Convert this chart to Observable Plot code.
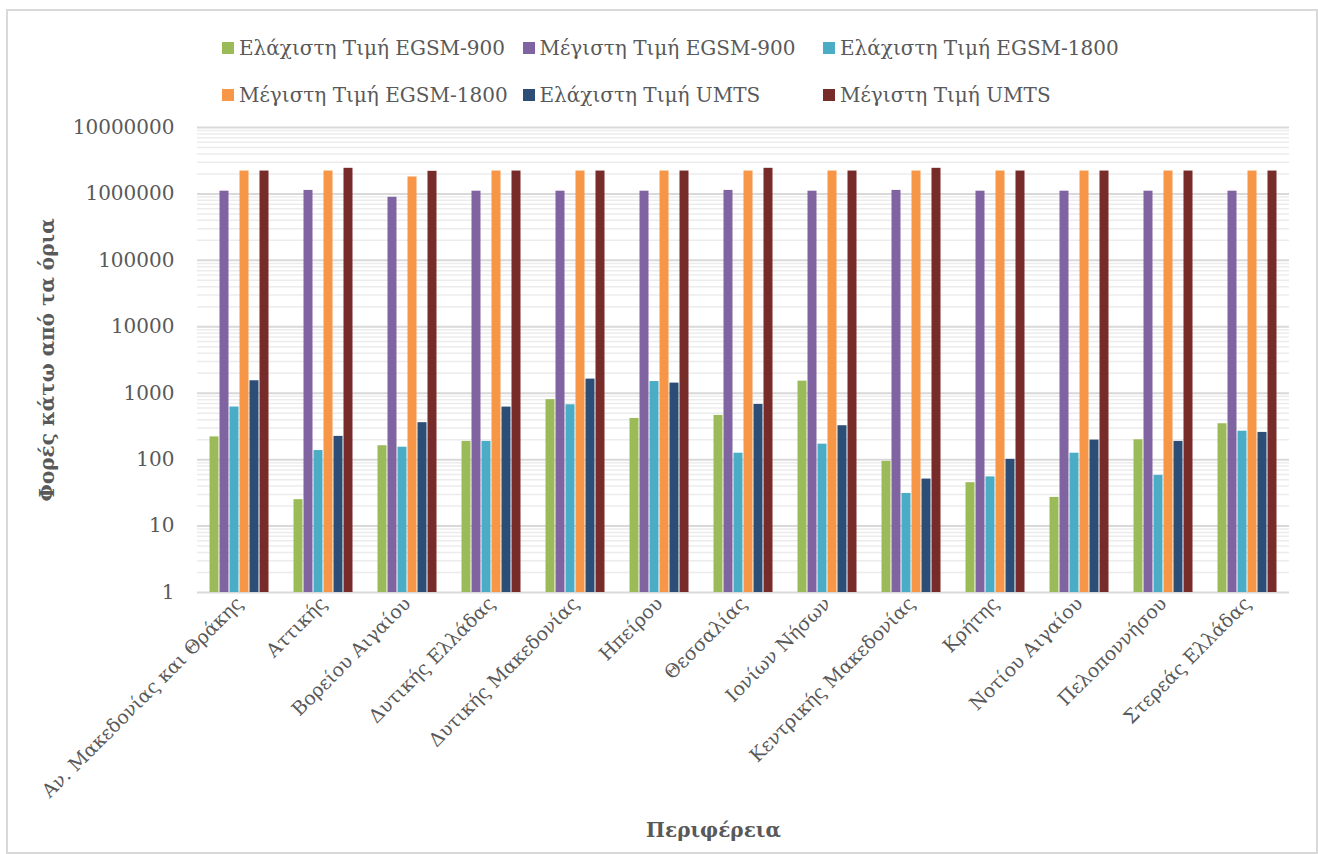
<!DOCTYPE html>
<html>
<head>
<meta charset="utf-8">
<script src="https://cdn.jsdelivr.net/npm/d3@7"></script>
<script src="https://cdn.jsdelivr.net/npm/@observablehq/plot@0.6"></script>
<style>
  html, body { margin: 0; padding: 0; background: #fff; }
  #wrap { position: relative; width: 1318px; height: 854px; overflow: hidden; font-family: "DejaVu Serif", serif; color: #595959; }
  #frame { position: absolute; left: 6px; top: 9px; width: 1312px; height: 845px; border: 2px solid #d9d9d9; box-sizing: border-box; pointer-events: none; }
  #legend { position: relative; height: 110px; }
  .item { position: absolute; display: flex; align-items: center; height: 24px; font-size: 20px; white-space: nowrap; }
  .sw { width: 12px; height: 12px; margin-right: 5px; flex: none; }
  #chart svg { display: block; }
</style>
</head>
<body>
<div id="wrap">
  <div id="frame"></div>
  <div id="legend"></div>
  <div id="chart"></div>
</div>
<script>
const regions = ["Αν. Μακεδονίας και Θράκης","Αττικής","Βορείου Αιγαίου","Δυτικής Ελλάδας","Δυτικής Μακεδονίας","Ηπείρου","Θεσσαλίας","Ιονίων Νήσων","Κεντρικής Μακεδονίας","Κρήτης","Νοτίου Αιγαίου","Πελοποννήσου","Στερεάς Ελλάδας"];
const series = ["Ελάχιστη Τιμή EGSM-900","Μέγιστη Τιμή EGSM-900","Ελάχιστη Τιμή EGSM-1800","Μέγιστη Τιμή EGSM-1800","Ελάχιστη Τιμή UMTS","Μέγιστη Τιμή UMTS"];
const colors = ["#9BBB59","#8064A2","#4BACC6","#F79646","#2C4D75","#772C2A"];

const minEGSM900  = [220, 25, 162, 188, 800, 417, 463, 1520, 94, 45, 27, 199, 347];
const maxEGSM900  = [1100000, 1130000, 890000, 1100000, 1100000, 1100000, 1130000, 1100000, 1130000, 1100000, 1100000, 1100000, 1100000];
const minEGSM1800 = [620, 137, 154, 188, 670, 1500, 125, 171, 31, 55, 125, 58, 268];
const maxEGSM1800 = [2210000, 2210000, 1800000, 2210000, 2210000, 2210000, 2210000, 2210000, 2210000, 2210000, 2210000, 2210000, 2210000];
const minUMTS     = [1540, 224, 360, 618, 1630, 1420, 678, 324, 51, 101, 197, 188, 257];
const maxUMTS     = [2210000, 2430000, 2190000, 2210000, 2210000, 2210000, 2430000, 2210000, 2430000, 2210000, 2210000, 2210000, 2210000];

const yTicks = [1, 10, 100, 1000, 10000, 100000, 1000000, 10000000];
const yLabel = "Φορές κάτω από τα όρια";
const xLabel = "Περιφέρεια";

const seriesValues = [minEGSM900, maxEGSM900, minEGSM1800, maxEGSM1800, minUMTS, maxUMTS];
const data = [];
regions.forEach((r, i) => series.forEach((s, j) => data.push({region: r, series: s, value: seriesValues[j][i]})));

const minorTicks = [];
for (let k = 0; k < yTicks.length - 1; k++) for (let m = 2; m <= 9; m++) minorTicks.push(yTicks[k] * m);

// Legend
const legend = d3.select("#legend");
series.forEach((s, i) => {
  const col = i % 3, row = Math.floor(i / 3);
  const it = legend.append("div").attr("class", "item")
    .style("left", (222 + col * 300.5) + "px")
    .style("top", (36 + row * 47) + "px");
  it.append("div").attr("class", "sw").style("background", colors[i]);
  it.append("span").text(s);
});

const chart = Plot.plot({
  width: 1318,
  height: 744,
  marginTop: 17,
  marginBottom: 262,
  marginLeft: 197,
  marginRight: 29,
  style: {fontFamily: "DejaVu Serif", fontSize: "20px", color: "#595959", background: "transparent"},
  fx: {domain: regions, padding: 0},
  x: {domain: series, paddingInner: 0, paddingOuter: 0.98, axis: null},
  y: {type: "log", domain: [1, 10000000]},
  color: {domain: series, range: colors},
  marks: [
    Plot.ruleY(minorTicks, {stroke: "#ececec", strokeWidth: 1.5}),
    Plot.ruleY(yTicks, {stroke: "#d9d9d9", strokeWidth: 2}),
    Plot.barY(data, {fx: "region", x: "series", y1: 1, y2: "value", fill: "series", insetLeft: 0.5, insetRight: 0.5}),
    Plot.axisY({ticks: yTicks, tickFormat: d => String(d), tickSize: 0, tickPadding: 23, label: null, fontSize: 20}),
    Plot.axisFx({anchor: "bottom", tickRotate: -45, tickSize: 0, tickPadding: 8, label: null, fontSize: 19}),
    Plot.text([yLabel], {facet: "super", frameAnchor: "left", dx: -150, rotate: -90, textAnchor: "middle", lineAnchor: "middle", fontWeight: "bold", fontSize: 20}),
    Plot.text([xLabel], {facet: "super", frameAnchor: "bottom", dx: -30, dy: 238, textAnchor: "middle", lineAnchor: "middle", fontWeight: "bold", fontSize: 20})
  ]
});
document.getElementById("chart").appendChild(chart);
</script>
</body>
</html>
